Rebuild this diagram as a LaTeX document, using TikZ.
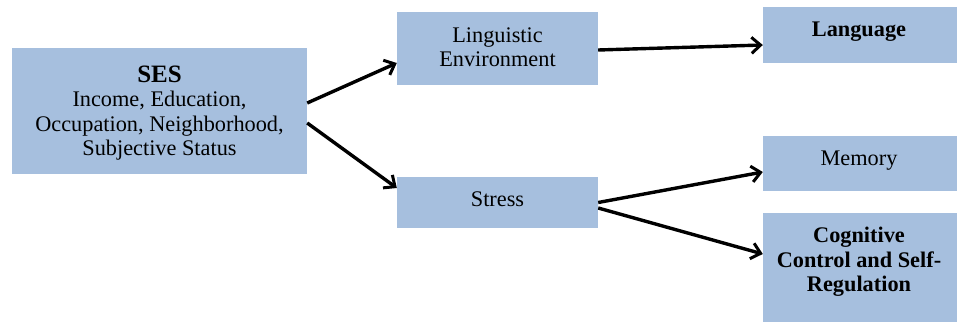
\documentclass[tikz,border=0pt]{standalone}
\usepackage{fontspec}
\setmainfont{Liberation Serif}
\usetikzlibrary{arrows.meta}
\definecolor{boxfill}{RGB}{166,191,222}
\begin{document}
\begin{tikzpicture}[x=1pt,y=-1pt,
  box/.style={draw=none,fill=boxfill,inner sep=0pt,minimum width=#1},
  txt/.style={font=\fontsize{22.3}{24.5}\selectfont,align=center,inner sep=0pt},
  link/.style={line width=3.4pt,-{Straight Barb[length=9pt,width=16pt,line width=3pt]}}]
\useasboundingbox (0,0) rectangle (957,323);
% boxes
\node[box=295pt,minimum height=126pt] (ses) at (159.5,111) {};
\node[box=201pt,minimum height=73pt] (ling) at (497.5,48.5) {};
\node[box=194pt,minimum height=56pt] (lang) at (860,35) {};
\node[box=201pt,minimum height=51pt] (stress) at (497.5,202.5) {};
\node[box=194pt,minimum height=55pt] (mem) at (860,163.5) {};
\node[box=194pt,minimum height=109pt] (cog) at (860,267.5) {};
% texts
\node[txt] (sest) at (159.5,113) {{\fontsize{25}{26}\selectfont\bfseries SES}\\Income, Education,\\Occupation, Neighborhood,\\Subjective Status};
\node[txt] (lingt) at (497.5,47) {Linguistic\\Environment};
\node[txt,anchor=base,font=\fontsize{22.3}{24.5}\selectfont\bfseries] (langt) at (859,37) {Language};
\node[txt,anchor=base] (stresst) at (497.5,206) {Stress};
\node[txt,anchor=base] (memt) at (859,166) {Memory};
\node[txt,font=\fontsize{22.3}{24.5}\selectfont\bfseries] (cogt) at (859,262) {Cognitive\\Control and Self-\\Regulation};
% connectors
\draw[link] ([yshift=8pt]ses.east) -- ([yshift=-14.5pt]ling.west);
\draw[link] ([yshift=-12pt]ses.east) -- ([yshift=14.5pt]stress.west);
\draw[link] ([yshift=-1.5pt]ling.east) -- ([yshift=-10pt]lang.west);
\draw[link] (stress.east) -- ([yshift=-8.5pt]mem.west);
\draw[link] ([yshift=-5.5pt]stress.east) -- ([yshift=13.5pt]cog.west);
\end{tikzpicture}
\end{document}
